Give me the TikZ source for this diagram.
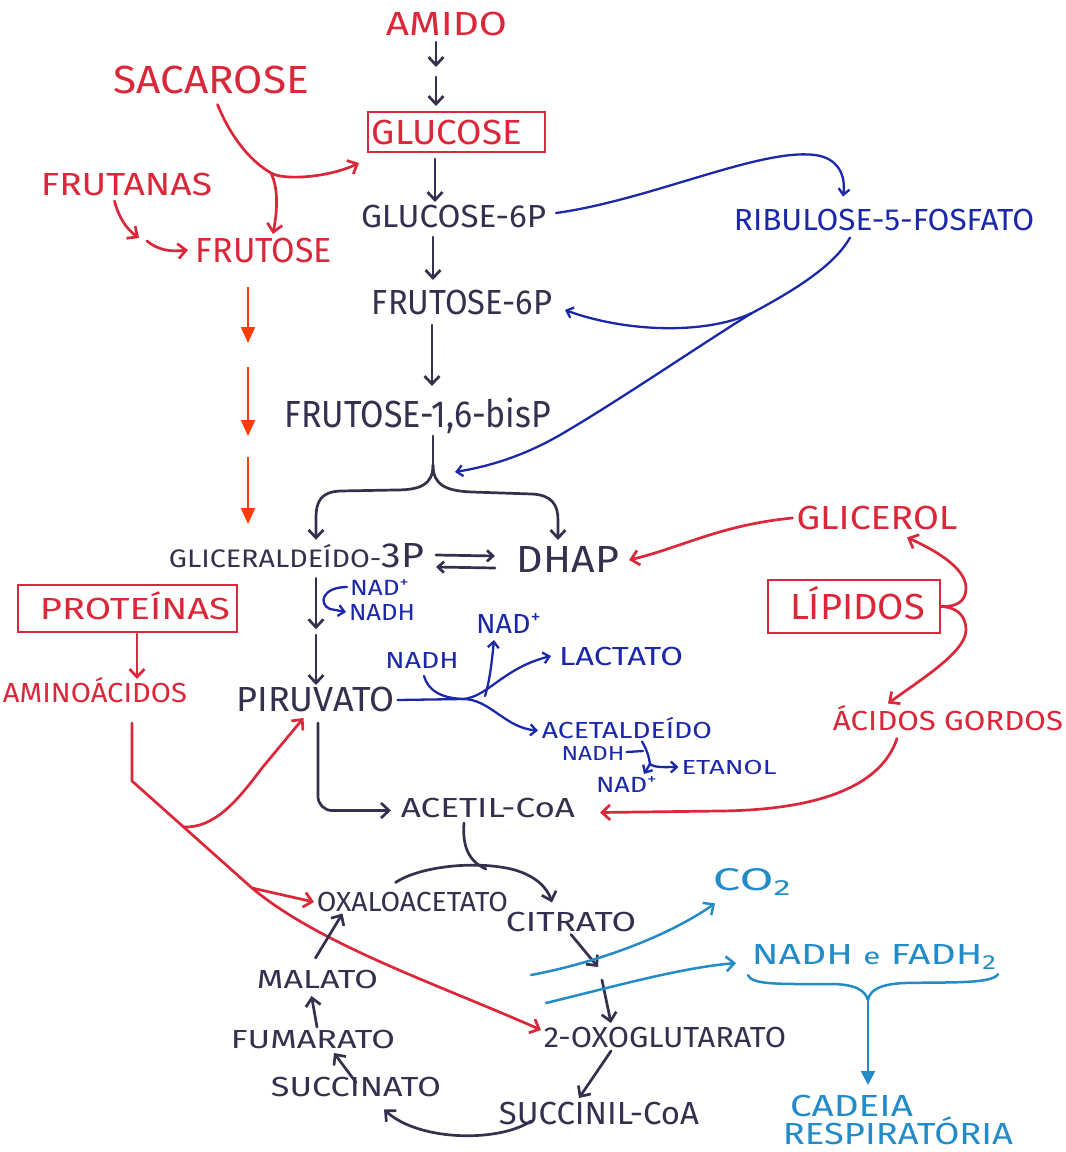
\documentclass[tikz,border=0pt]{standalone}
\usepackage{fontspec}
\setmainfont{Fira Sans}
\usepackage{graphicx}
\usetikzlibrary{arrows.meta,calc}

\definecolor{ink}{RGB}{52,48,78}
\definecolor{redc}{RGB}{218,40,58}
\definecolor{bluec}{RGB}{28,40,170}
\definecolor{cyanc}{RGB}{35,140,200}
\definecolor{orangec}{RGB}{255,60,10}

% scale a label to a given width and height (in pt)
\newcommand{\fitbox}[3]{\resizebox{#1pt}{#2pt}{#3}}
% same, but the height is the capital height (accents stick out above)
\newcommand{\capfit}[3]{\resizebox{#1pt}{#2pt}{\smash{#3}\vphantom{A}}}

\begin{document}
\begin{tikzpicture}[x=1pt,y=-1pt,
  lab/.style={inner sep=0pt, outer sep=0pt},
  tbox/.style={draw=redc, line width=2pt, inner sep=0pt, text=redc},
  barb/.style={-{Straight Barb[length=8pt,width=15pt]}},
  smallbarb/.style={-{Straight Barb[length=6pt,width=11pt]}},
  flowline/.style={draw=ink, line width=2.7pt, line cap=round},
  flow/.style={flowline, barb},
  redline/.style={draw=redc, line width=2.7pt, line cap=round},
  redflow/.style={redline, barb},
  blueline/.style={draw=bluec, line width=2.3pt, line cap=round},
  blueflow/.style={blueline, smallbarb},
  cyanline/.style={draw=cyanc, line width=2.5pt, line cap=round},
  cyanflow/.style={cyanline, barb},
  orangeflow/.style={draw=orangec, line width=2.3pt, -{Triangle[length=16pt,width=14pt]}}
]
\useasboundingbox (0,0) rectangle (1066,1152);
\fill[white] (0,0) rectangle (1066,1152);

% ---------- labels ----------
\node[lab,text=redc] (amido) at (446.5,23.5) {\capfit{121}{23}{AMIDO}};
\node[tbox, minimum width=177pt, minimum height=40pt] (glucose) at (456.5,132) {\capfit{150}{24}{GLUCOSE}\hspace*{19pt}};
\node[lab,text=redc] (sacarose) at (211.5,80) {\capfit{195}{27}{SACAROSE}};
\node[lab,text=redc] (frutanas) at (126.5,184) {\capfit{171}{22}{FRUTANAS}};
\node[lab,text=redc] (frutose) at (264,250) {\capfit{136}{24}{FRUTOSE}};
\node[lab,text=ink] (g6p) at (453.5,216) {\capfit{185}{22}{GLUCOSE-6P}};
\node[lab,text=ink] (f6p) at (462,302) {\capfit{180}{24}{FRUTOSE-6P}};
\node[lab,text=ink] (f16bp) at (418,414) {\capfit{266}{26}{FRUTOSE-1,6-bisP}};
\node[lab,text=ink] (g3p) at (296.5,556) {\fitbox{255}{24}{{\fontsize{8}{8}\selectfont GLICERALDEÍDO-}{\fontsize{11}{11}\selectfont 3P}}};
\node[lab,text=ink] (dhap) at (568,559) {\capfit{102}{26}{DHAP}};
\node[lab,text=bluec] (ribulose) at (884,220) {\capfit{300}{21}{RIBULOSE-5-FOSFATO}};
\node[lab,text=bluec] (nad1) at (380,587) {\fitbox{60}{16}{NAD\textsuperscript{+}}};
\node[lab,text=bluec] (nadh1) at (382,612) {\capfit{66}{16}{NADH}};
\node[lab,text=ink] (piruvato) at (315.5,699) {\capfit{158}{24}{PIRUVATO}};
\node[lab,text=bluec] (nadh2) at (422,660) {\capfit{73}{16}{NADH}};
\node[lab,text=bluec] (nad2) at (509,623) {\fitbox{66}{20}{NAD\textsuperscript{+}}};
\node[lab,text=bluec] (lactato) at (621,656) {\capfit{124}{18}{LACTATO}};
\node[lab,text=bluec] (acetald) at (627,730.5) {\capfit{170}{16}{ACETALDEÍDO}};
\node[lab,text=bluec] (nadh3) at (593,753) {\capfit{63}{14}{NADH}};
\node[lab,text=bluec] (etanol) at (729,767) {\capfit{95}{14}{ETANOL}};
\node[lab,text=bluec] (nad3) at (627,784) {\fitbox{62}{16}{NAD\textsuperscript{+}}};
\node[lab,text=ink] (acetil) at (488,807.5) {\capfit{174}{19}{ACETIL-CoA}};
\node[tbox, minimum width=219pt, minimum height=47pt] (proteinas) at (127.5,608.5) {\hspace*{15pt}\capfit{190}{21}{PROTEÍNAS}};
\node[lab,text=redc] (aminoacidos) at (95,692.5) {\capfit{184}{19}{AMINOÁCIDOS}};
\node[lab,text=redc] (glicerol) at (877,518) {\capfit{161}{23}{GLICEROL}};
\node[tbox, minimum width=172pt, minimum height=53pt] (lipidos) at (854,606.5) {\hspace*{7pt}\capfit{135}{25}{LÍPIDOS}};
\node[lab,text=redc] (acidos) at (948,721) {\capfit{230}{19}{ÁCIDOS GORDOS}};
\node[lab,text=ink] (oxalo) at (412.5,902) {\capfit{191}{19}{OXALOACETATO}};
\node[lab,text=ink] (citrato) at (571,922) {\capfit{130}{19}{CITRATO}};
\node[lab,text=ink] (malato) at (317.5,979) {\capfit{121}{18}{MALATO}};
\node[lab,text=ink] (fumarato) at (313,1039) {\capfit{164}{18}{FUMARATO}};
\node[lab,text=ink] (succinato) at (356,1087) {\capfit{170}{19}{SUCCINATO}};
\node[lab,text=ink] (succinil) at (599,1113) {\capfit{200}{22}{SUCCINIL-CoA}};
\node[lab,text=ink] (oxoglut) at (665,1037) {\capfit{242}{20}{2-OXOGLUTARATO}};
\node[lab,text=cyanc] (co2) at (753,882) {\fitbox{80}{22}{CO\textsubscript{2}}};
\node[lab,text=cyanc] (nadhfadh) at (875,957) {\fitbox{246}{20}{NADH {\footnotesize e} FADH\textsubscript{2}}};
\node[lab,text=cyanc] (cadeia) at (851.5,1105.5) {\capfit{123}{21}{CADEIA}};
\node[lab,text=cyanc] (resp) at (898,1133.5) {\capfit{230}{21}{RESPIRATÓRIA}};

% ---------- column guides ----------
\coordinate (c432) at (432,0);
\coordinate (c433) at (433,0);
\coordinate (c435) at (435,0);
\coordinate (c436) at (436,0);
\coordinate (c316) at (316,0);
\coordinate (c318) at (318,0);
\coordinate (c558) at (558,0);
\coordinate (c843) at (843,0);
\coordinate (c850) at (850,0);
\coordinate (c137) at (137,0);
\coordinate (c132) at (132,0);
\coordinate (c868) at (868,0);

% ---------- glycolysis (main column) ----------
\draw[flow] ($(amido.south -| c436)+(0,7)$) -- ($(amido.south -| c436)+(0,32)$);
\draw[flow] ($(glucose.north -| c436)+(0,-34)$) -- ($(glucose.north -| c436)+(0,-5)$);
\draw[flow] ($(glucose.south -| c435)+(0,6)$) -- ($(g6p.north -| c435)+(0,-3)$);
\draw[flow] ($(g6p.south -| c433)+(0,10)$) -- ($(f6p.north -| c433)+(0,-10)$);
\draw[flow] ($(f6p.south -| c432)+(0,11)$) -- ($(f16bp.north -| c432)+(0,-15)$);

\coordinate (fork) at (433,465);
\draw[flowline] ($(f16bp.south -| c433)+(0,9)$) -- (fork);
\draw[flow] (fork) .. controls (433,485) and (420,490) .. (395,490) -- (340,491)
  .. controls (322,492) and (316,500) .. (316,518) -- ($(g3p.north -| c316)+(0,-4)$);
\draw[flow] (fork) .. controls (433,485) and (446,491) .. (472,492) -- (532,494)
  .. controls (552,495) and (558,505) .. (558,520) -- ($(dhap.north -| c558)+(0,-6)$);

% triose interconversion
\draw[flow, smallbarb] ($(g3p.east)+(12,-1)$) -- ($(dhap.west)+(-22,-3)$);
\draw[flow, smallbarb] ($(dhap.west)+(-22,9)$) -- ($(g3p.east)+(12,11)$);

% to pyruvate
\draw[flow] ($(g3p.south -| c316)+(0,10)$) -- ($(g3p.south -| c316)+(0,61)$);
\draw[flow] ($(piruvato.north -| c316)+(0,-52)$) -- ($(piruvato.north -| c316)+(0,-2)$);
\draw[blueflow] ($(nad1.west)+(-3,0)$) .. controls (322,587) and (318,604) .. (330,609) -- ($(nadh1.west)+(-3,0)$);

% pyruvate to acetyl-CoA
\draw[flow, rounded corners=14pt] ($(piruvato.south -| c318)+(0,12)$) |- ($(acetil.west)+(-10,3)$);

% ---------- fermentation ----------
\coordinate (pj) at (463,699);
\draw[blueline] ($(piruvato.east)+(3,1)$) -- (pj);
\draw[blueflow] (pj) .. controls (488,697) and (503,668) .. ($(lactato.west)+(-8,0)$);
\draw[blueflow] (pj) .. controls (490,699) and (505,728) .. ($(acetald.west)+(-4,0)$);
\draw[blueline] ($(nadh2.south)+(2,8)$) .. controls (428,690) and (440,698) .. (pj);
\draw[blueflow] ($(pj)+(22,-3)$) .. controls (490,680) and (492,660) .. ($(nad2.south)+(-15,7)$);

\coordinate (es) at (650,764);
\draw[blueline] ($(acetald.south)+(15,3)$) .. controls (647,750) and (649,757) .. (es);
\draw[blueline] ($(nadh3.east)+(2,-1)$) -- (643,751);
\draw[blueflow] (es) .. controls (655,768) and (665,767) .. ($(etanol.west)+(-3,0)$);
\draw[blueflow] (es) -- ($(nad3.north)+(17,-2)$);

% ---------- pentose phosphate ----------
\draw[blueflow] ($(g6p.east)+(10,-3)$) .. controls (650,200) and (760,148) .. (815,155)
  .. controls (838,158) and (846,175) .. ($(ribulose.north -| c843)+(0,-13)$);
\coordinate (rj) at (752,313);
\coordinate (bistip) at (455,472);
\draw[blueline] ($(ribulose.south -| c850)+(0,7)$) .. controls (835,265) and (795,290) .. (rj);
\draw[blueflow] (rj) .. controls (705,335) and (625,332) .. ($(f6p.east)+(13,8)$);
\draw[blueflow] (rj) .. controls (700,345) and (620,400) .. (560,435) .. controls (520,458) and (485,467) .. (bistip);

% ---------- sugars ----------
\coordinate (sj) at (271,173);
\draw[redline] ($(sacarose.south)+(6,11)$) .. controls (232,140) and (252,162) .. (sj);
\draw[redflow] (sj) .. controls (285,181) and (330,177) .. ($(glucose.south west)+(-8,10)$);
\draw[redflow] (sj) .. controls (279,190) and (277,212) .. ($(frutose.north)+(9,-4)$);
\coordinate (fa) at (139,238);
\draw[redflow] ($(frutanas.south)+(-12,6)$) .. controls (118,215) and (125,228) .. (fa);
\draw[redflow] ($(fa)+(8,3)$) .. controls (158,250) and (170,252) .. ($(frutose.west)+(-8,0)$);

% level arrows
\draw[orangeflow] (248,287) -- (248,343);
\draw[orangeflow] (248,367) -- (248,436);
\draw[orangeflow] (248,457) -- (248,524);

% ---------- proteins ----------
\draw[redflow] ($(proteinas.south -| c137)+(0,1)$) -- ($(aminoacidos.north -| c137)+(0,-4)$);
\coordinate (ak) at (132,781);
\coordinate (ab1) at (184,827);
\coordinate (ab2) at (252,888);
\draw[redflow] ($(aminoacidos.south -| c132)+(0,21)$) -- (ak) -- (ab2)
  .. controls (320,945) and (440,985) .. ($(oxoglut.west)+(-3,-7)$);
\draw[redflow] (ab1) .. controls (215,828) and (238,800) .. (262,768) -- ($(piruvato.south)+(-12,7)$);
\draw[redflow] (ab2) -- ($(oxalo.west)+(-3,0)$);

% ---------- lipids ----------
\draw[redflow] ($(glicerol.west)+(-4,0)$) .. controls (720,525) and (680,548) .. ($(dhap.east)+(10,1)$);
\draw[redflow] (lipidos.east) .. controls (956,607) and (966,602) .. (966,588)
  .. controls (966,568) and (935,550) .. ($(glicerol.south)+(30,8)$);
\draw[redflow] (lipidos.east) .. controls (956,607) and (966,615) .. (966,630)
  .. controls (966,652) and (920,680) .. ($(acidos.north)+(-60,-8)$);
\draw[redflow] ($(acidos.south)+(-51,8)$) .. controls (880,790) and (810,810) .. (720,811) -- ($(acetil.east)+(25,5)$);

% ---------- Krebs cycle ----------
\draw[flowline] ($(acetil.south)+(-24,6)$) .. controls (462,848) and (470,862) .. (486,869);
\draw[flow] ($(oxalo.north)+(-17,-10)$) .. controls (420,866) and (478,860) .. (515,870)
  .. controls (535,876) and (547,887) .. ($(citrato.north)+(-19,-10)$);
\coordinate (cm) at (600,973);
\draw[flow] ($(citrato.south)+(0,3)$) -- ($(cm)+(-2,-6)$);
\draw[flow] ($(cm)+(2,7)$) -- ($(oxoglut.north)+(-54,-4)$);
\draw[flow] ($(oxoglut.south)+(-54,4)$) -- ($(succinil.north)+(-20,-4)$);
\draw[flow] ($(succinil.south)+(-68,-3)$) .. controls (500,1142) and (420,1142) .. ($(succinato.south)+(28,13)$);
\draw[flow] ($(succinato.north)+(0,5)$) -- ($(fumarato.south)+(21,5)$);
\draw[flow] ($(fumarato.north)+(4,-3)$) -- ($(malato.south)+(-6,8)$);
\draw[flow] ($(malato.north)+(-2,-12)$) -- ($(oxalo.south)+(-70,2)$);

% ---------- products ----------
\coordinate (cy1) at (531,975);
\coordinate (cy2) at (546,1003);
\draw[cyanflow] (cy1) .. controls (600,962) and (670,935) .. ($(co2.south)+(-38,8)$);
\draw[cyanflow] (cy2) .. controls (620,985) and (680,968) .. ($(nadhfadh.west)+(-16,6)$);
\coordinate (cb) at (868,1000);
\draw[cyanline] ($(nadhfadh.south west)+(-4,6)$) .. controls (752,985) and (780,984) .. (830,984)
  .. controls (855,984) and (865,990) .. (cb);
\draw[cyanline] ($(nadhfadh.south east)+(0,5)$) .. controls (992,984) and (950,982) .. (905,983)
  .. controls (880,984) and (870,990) .. (cb);
\draw[cyanline, -{Triangle[length=14pt,width=14pt]}] (cb) -- ($(cadeia.north -| c868)+(0,-10)$);
\end{tikzpicture}
\end{document}
